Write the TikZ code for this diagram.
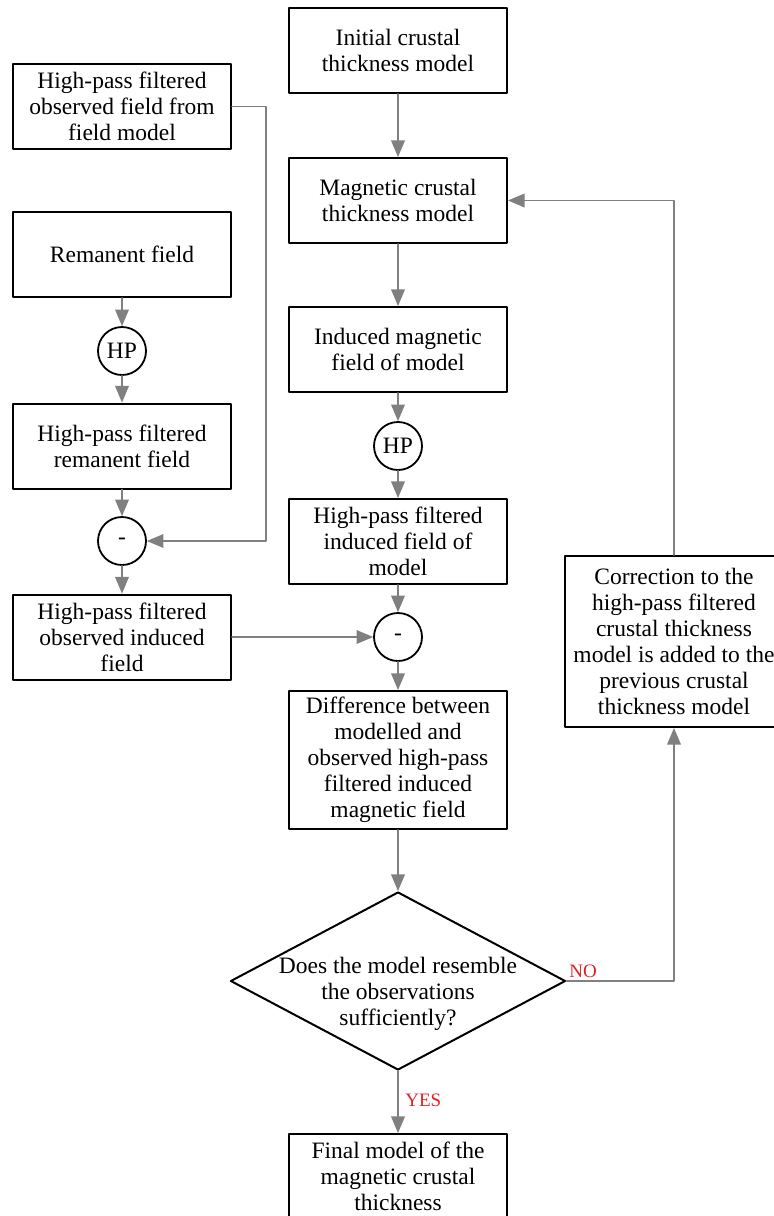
\documentclass[tikz,border=0pt]{standalone}
\usepackage{fontspec}
\setmainfont{Liberation Serif}
\usepackage{tikz}
\usetikzlibrary{arrows}
\usetikzlibrary{shapes.geometric}
\definecolor{linegray}{RGB}{128,128,128}
\definecolor{answerred}{RGB}{224,32,32}
\tikzset{
  box/.style={draw=black,line width=1pt,fill=white,minimum width=109pt,minimum height=42.5pt,
    align=center,inner sep=1pt,font=\fontsize{11.75}{13}\selectfont},
  op/.style={draw=black,line width=0.9pt,circle,minimum size=24pt,inner sep=0pt,
    font=\fontsize{11.75}{13}\selectfont},
  flow/.style={->,draw=linegray,line width=0.9pt},
  answer/.style={text=answerred,inner sep=0pt,font=\fontsize{9.5}{11}\selectfont}
}

\begin{document}
\begin{tikzpicture}[line cap=round,line join=round,>=triangle 45,x=0.5pt,y=-0.5pt]
        \clip (0,0) rectangle (774,1216);
        % left column
        \node[box] (obsmod) at (122,106.5) {High-pass filtered\\observed field from\\field model};
        \node[box] (rem) at (122,254.5) {Remanent field};
        \node[op] (hpL) at (122,351) {HP};
        \node[box] (hprem) at (122,446) {High-pass filtered\\remanent field};
        \node[op] (minL) at (122,541) {-};
        \node[box] (obsind) at (122,637) {High-pass filtered\\observed induced\\field};
        % middle column
        \node[box] (init) at (398,50.5) {Initial crustal\\thickness model};
        \node[box] (mag) at (398,200.5) {Magnetic crustal\\thickness model};
        \node[box] (ind) at (398,349.5) {Induced magnetic\\field of model};
        \node[op] (hpM) at (398,446) {HP};
        \node[box] (hpind) at (398,541.5) {High-pass filtered\\induced field of\\model};
        \node[op] (minM) at (398,637) {-};
        \node[box,minimum height=69pt] (diff) at (398,760) {Difference between\\modelled and\\observed high-pass\\filtered induced\\magnetic field};
        \node[draw=black,line width=1pt,diamond,minimum width=167.5pt,minimum height=89pt,inner sep=0pt] (dec) at (398,981) {};
        \node[align=center,inner sep=0pt,font=\fontsize{11.75}{13}\selectfont] (dectext) at (398,994) {Does the model resemble\\the observations\\sufficiently?};
        \node[box] (final) at (398,1176.5) {Final model of the\\magnetic crustal\\thickness};
        % right column
        \node[box,minimum height=85.5pt] (corr) at (674,641.5) {Correction to the\\high-pass filtered\\crustal thickness\\model is added to the\\previous crustal\\thickness model};
        % connectors
        \draw[flow] (init) -- (mag);
        \draw[flow] (mag) -- (ind);
        \draw[flow] (ind) -- (hpM);
        \draw[flow] (hpM) -- (hpind);
        \draw[flow] (hpind) -- (minM);
        \draw[flow] (minM) -- (diff);
        \draw[flow] (diff) -- (dec);
        \draw[flow] (dec) -- (final);
        \draw[flow] (rem) -- (hpL);
        \draw[flow] (hpL) -- (hprem);
        \draw[flow] (hprem) -- (minL);
        \draw[flow] (minL) -- (obsind);
        \draw[flow] (obsmod.east) -- ++(34,0) |- (minL);
        \draw[flow] (obsind) -- (minM);
        \draw[flow] (dec.east) -| (corr.south);
        \draw[flow] (corr.north) |- (mag.east);
        % answers
        \node[answer,anchor=south west] (no) at (569,978) {NO};
        \node[answer,anchor=west] (yes) at (405,1100) {YES};
      \end{tikzpicture}
\end{document}
